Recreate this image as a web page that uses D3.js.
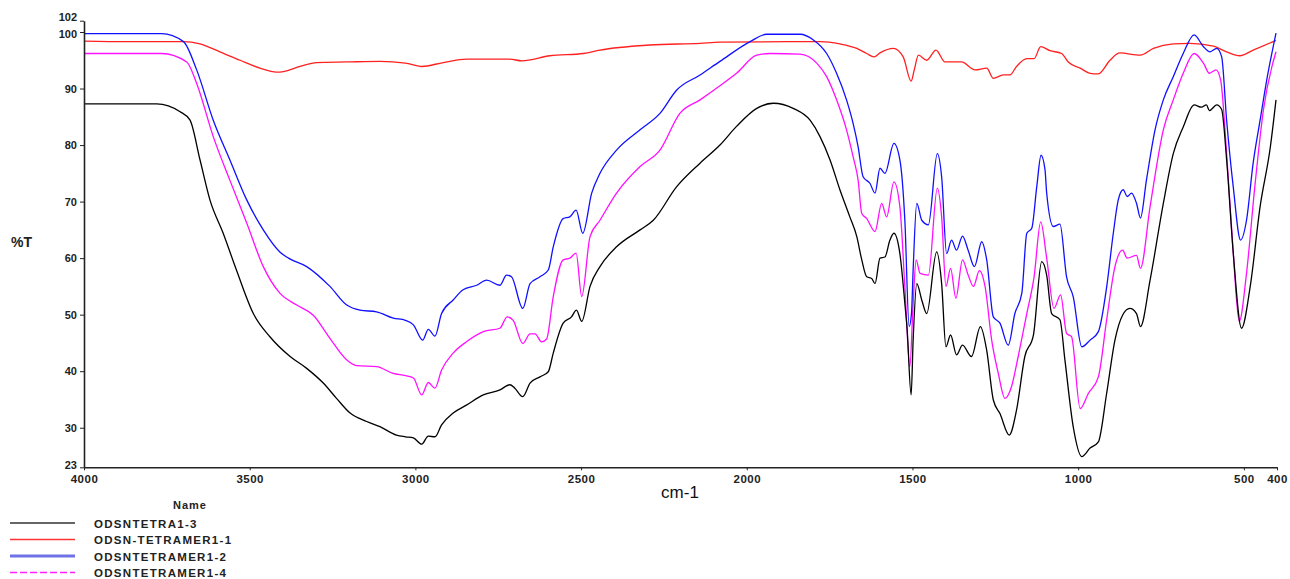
<!DOCTYPE html>
<html><head><meta charset="utf-8">
<script src="https://cdn.jsdelivr.net/npm/d3@7/dist/d3.min.js"></script>
<style>
html,body{margin:0;padding:0;background:#fff;}
svg{display:block;font-family:"Liberation Sans",Arial,sans-serif;}
</style></head>
<body><svg id="c" width="1290" height="579"></svg>
<script>
const seriesNames = ["ODSNTETRA1-3","ODSN-TETRAMER1-1","ODSNTETRAMER1-2","ODSNTETRAMER1-4"];
const seriesColors = ["#000000","#ff2020","#1010ff","#ff10ff"];
const xTicks = [4000,3500,3000,2500,2000,1500,1000,500,400];
const yTicks = [102,100,90,80,70,60,50,40,30,23];

const wnBlack = [4000,3781,3710,3680,3650,3620,3580,3540,3489,3439,3378,3328,3278,3238,3197,3147,3107,3057,3030,3006,2981,2961,2941,2921,2886,2846,2795,2745,2715,2700,2676,2654,2624,2599,2584,2554,2529,2514,2498,2473,2443,2393,2322,2282,2212,2141,2081,2031,1970,1920,1860,1809,1779,1749,1719,1689,1668,1653,1638,1623,1613,1598,1583,1568,1556,1538,1523,1516,1504,1498,1487,1472,1457,1427,1412,1399,1385,1367,1349,1322,1295,1276,1256,1236,1208,1186,1161,1135,1110,1095,1080,1055,1040,1015,989,964,939,914,889,866,844,824,812,783,743,713,683,650,628,613,604,582,567,552,532,507,481,451,420,403];
const tBlack = [87.3,87.3,85.9,84.4,77.4,70.3,64.4,57.9,50.2,46.1,42.6,40.5,37.9,35.2,32.6,31.1,30.2,28.7,28.4,28.2,27.1,28.5,28.4,30.5,32.6,34,35.8,36.7,37.6,37,35.5,37.9,39,39.9,43.2,48.5,49.6,50.8,48.8,55,58.5,62,65,66.7,72.6,76.8,80,83.3,86.5,87.4,86.5,84.4,81.5,77.4,72.1,67.3,63.8,59.7,56.7,56.4,55.5,60,60.2,63.2,64.4,60.8,52,47.3,35.8,45.5,55.5,52.6,50.2,61.1,55.5,44.3,46.4,42.9,44.6,42.6,47.9,43.7,34.9,32.5,28.7,33.1,42.6,46.4,59.4,57,50.2,49.1,42,30.2,24.9,26.4,27.5,36.1,45.5,49.9,51.1,50.2,47.9,56.1,69.7,78.5,83.2,87.1,86.7,87.1,86.1,87.1,86.3,77.4,60.9,47.6,54.9,69.1,79.7,88];

const wnRed = [4000,3870,3700,3650,3590,3529,3469,3419,3398,3348,3298,3207,3107,3030,2981,2916,2846,2715,2679,2594,2493,2443,2292,2141,2081,1880,1779,1719,1668,1638,1616,1598,1558,1528,1504,1495,1482,1457,1429,1402,1352,1311,1276,1256,1226,1206,1186,1155,1133,1113,1085,1050,1030,994,964,939,904,874,813,773,713,663,592,552,512,472,403];
const tRed = [98.4,98.3,98.3,97.9,96.5,95,93.6,92.9,93,93.9,94.6,94.7,94.8,94.5,93.9,94.6,95.2,95.2,94.9,95.8,96.2,96.8,97.7,98,98.2,98.3,98.3,97.9,97.1,96.2,95.6,96.3,97.1,95.6,91.3,93.2,95.9,95,96.8,94.7,94.7,93.3,93.6,91.8,92.4,92.4,93.9,95.3,95.3,97.4,96.7,96.2,94.7,93.6,92.7,92.6,95,96.3,95.9,97.1,97.9,98,97.5,96.5,95.8,96.8,98.5];

const wnBlue = [4000,3766,3700,3660,3610,3560,3509,3459,3409,3383,3328,3258,3207,3167,3117,3067,3030,3006,2978,2961,2941,2921,2886,2856,2815,2785,2745,2725,2710,2676,2654,2624,2599,2584,2554,2534,2515,2495,2468,2443,2393,2322,2262,2212,2141,2081,1990,1940,1839,1799,1759,1729,1699,1679,1664,1649,1628,1613,1598,1583,1556,1538,1523,1510,1503,1498,1487,1472,1452,1425,1412,1397,1382,1367,1349,1332,1313,1291,1276,1256,1236,1211,1191,1170,1155,1140,1125,1112,1100,1095,1075,1055,1035,1015,989,964,939,914,894,879,864,852,839,824,812,794,768,743,713,683,650,622,602,582,567,552,532,510,492,472,451,431,403];
const tBlue = [99.7,99.7,98.3,93.3,84.4,77.4,70.3,65,61.1,60,58.5,55,51.7,50.8,50.5,49.4,49,48.2,45.5,47.4,46.2,50.2,52.6,54.4,55.2,56.1,55.2,57,56.7,51.1,55.5,56.7,57.9,62,67,67.3,68.5,64.4,71.5,75,79.1,82.7,85.6,89.7,92.4,94.8,98.3,99.6,99.6,98.6,96.2,92.7,88,83.8,79.7,74.4,73.2,71.5,75.9,75,80.3,77.4,66.7,47.9,50.2,57.9,69.7,66.7,65.9,78.5,74.4,60.8,63.2,61.4,63.9,61.4,58.5,62.9,59.7,49.6,48.5,44.6,50.2,53.8,64.4,65.3,72.6,78.2,75.6,71.5,65.6,66,56.7,53.2,44.3,45.5,47,54.9,64.4,70.3,72.1,70.9,71.5,69.7,67.1,73.8,82.7,88,92.1,96.2,99.5,97.4,96.5,97.1,95.6,84.4,72.6,63.2,66.7,76.8,84.4,91.5,99.8];

const wnMag = [4000,3766,3690,3660,3610,3560,3509,3459,3409,3358,3308,3258,3207,3177,3117,3067,3030,3006,2981,2961,2941,2921,2886,2846,2795,2745,2723,2705,2676,2654,2639,2619,2604,2584,2554,2534,2515,2498,2473,2443,2393,2322,2262,2202,2141,2081,2031,1970,1930,1839,1789,1759,1729,1699,1679,1664,1653,1638,1613,1593,1578,1556,1538,1523,1508,1498,1489,1477,1452,1425,1412,1399,1385,1369,1349,1332,1316,1298,1281,1261,1241,1221,1201,1181,1155,1133,1113,1095,1073,1053,1035,1020,994,969,939,914,889,866,852,824,812,783,743,713,683,650,622,604,584,570,552,532,514,492,467,441,403];
const tMag = [96.2,96.2,94.7,90.9,81.5,73.8,66.2,58.5,53.8,51.7,49.9,45.8,42,41,40.8,39.6,39.2,38.8,35.8,38,37,40.2,43.2,45.2,47,47.6,49.6,49,44.9,46.6,46.6,45.2,45.7,53.2,59.7,60,60.9,53.2,63.8,66.7,71.5,76.2,79.1,85.6,88,90.5,92.7,95.9,96.2,96.1,94.5,92.1,88,82.7,77.9,73.8,67.9,67,64.7,69.7,67.3,73.5,69.1,55,40.8,52,59.7,57.3,57,72.4,67.3,55,58.2,52.9,59.7,57,55,57.8,55,45.5,39.6,35.2,37.3,42.6,50.2,56.7,66.4,60,51.1,53.5,46.7,46.1,33.4,36.1,39,49.1,58.5,61.4,60,60.5,58.2,69.1,82.7,88,92.7,96.2,94.5,92.7,93.3,91.5,78.5,60.9,48.8,57.3,72.6,86.2,96.5];

const svg = d3.select("#c");
const L = 84, R = 1277, T = 20.7, B = 467.3;
const x = d3.scaleLinear().domain([4000,400]).range([L,R]);
const y = d3.scaleLinear().domain([23,102]).range([B,T]);

const series = [
  {name:seriesNames[1], wn:wnRed, t:tRed, color:seriesColors[1]},
  {name:seriesNames[3], wn:wnMag, t:tMag, color:seriesColors[3]},
  {name:seriesNames[2], wn:wnBlue, t:tBlue, color:seriesColors[2]},
  {name:seriesNames[0], wn:wnBlack, t:tBlack, color:seriesColors[0]}
];
const line = d3.line().x(d=>x(d[0])).y(d=>y(d[1])).curve(d3.curveMonotoneX);
series.forEach(s=>{
  svg.append("path").datum(s.wn.map((w,i)=>[w,s.t[i]]))
    .attr("d",line).attr("fill","none").attr("stroke",s.color).attr("stroke-width",1.3);
});

// axes
const xAxis = d3.axisBottom(x).tickValues(xTicks).tickSize(3).tickSizeOuter(0).tickPadding(5).tickFormat(d3.format("d"));
const gx = svg.append("g").attr("transform",`translate(0,${B})`).call(xAxis);
gx.select(".domain").attr("stroke","#222").attr("stroke-width",1.6);
gx.selectAll(".tick line").attr("stroke","#222");
gx.selectAll("text").attr("font-size",11.5).attr("font-weight","bold").attr("fill","#222")
  .attr("font-family","'Liberation Sans',Arial,sans-serif").style("letter-spacing","0.5px");

const yAxis = d3.axisLeft(y).tickValues(yTicks).tickSize(4).tickSizeOuter(0).tickPadding(3);
const gy = svg.append("g").attr("transform",`translate(${L},0)`).call(yAxis);
gy.select(".domain").attr("stroke","#222").attr("stroke-width",1.6);
gy.selectAll(".tick line").attr("stroke","#222");
gy.selectAll("text").attr("font-size",11).attr("font-weight","bold").attr("fill","#222")
  .attr("font-family","'Liberation Sans',Arial,sans-serif");
gy.selectAll(".tick").filter(d=>d===102).select("text").attr("dy","-0.05em");
gy.selectAll(".tick").filter(d=>d===100).select("text").attr("dy","0.5em");
gy.selectAll(".tick").filter(d=>d===23).select("text").attr("dy","0.15em");

svg.append("text").attr("x",680).attr("y",498).attr("text-anchor","middle")
  .attr("font-size",17).attr("fill","#111").text("cm-1");
svg.append("text").attr("x",11).attr("y",247)
  .attr("font-size",14).attr("font-weight","bold").attr("fill","#222").text("%T");

// legend
svg.append("text").attr("x",190).attr("y",509).attr("text-anchor","middle")
  .attr("font-size",11).attr("font-weight","bold").attr("fill","#222").style("letter-spacing","1px").text("Name");
const legColors = ["#333333","#ff3333","#6f72e6","#ff22ff"];
const legWidth = [1.6,1.6,3,1.6];
seriesNames.forEach((n,i)=>{
  const yy = 523 + i*16.5;
  svg.append("line").attr("x1",10).attr("x2",75).attr("y1",yy).attr("y2",yy)
    .attr("stroke",legColors[i]).attr("stroke-width",legWidth[i])
    .attr("stroke-dasharray", i===3 ? "7,3" : null);
  svg.append("text").attr("x",94).attr("y",yy+4.5).attr("font-size",11.5).attr("font-weight","bold")
    .attr("fill","#222").style("letter-spacing","1.3px").text(n);
});
</script></body></html>
